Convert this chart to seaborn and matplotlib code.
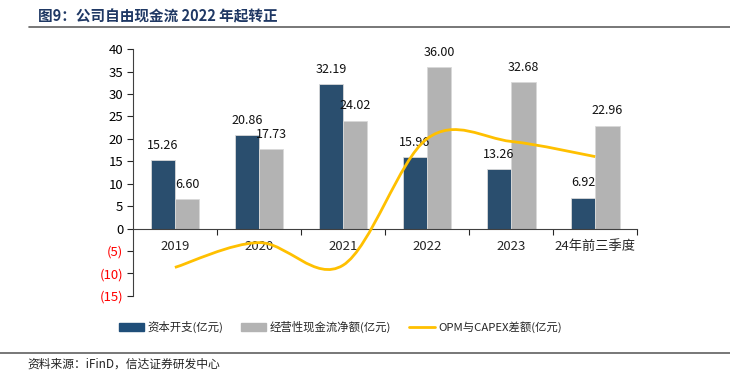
import matplotlib
matplotlib.use("Agg")
import matplotlib.pyplot as plt
from matplotlib.path import Path
from matplotlib.patches import PathPatch, Patch
from matplotlib.lines import Line2D
import numpy as np
import pandas as pd
import seaborn as sns

# 数据
categories = ['2019', '2020', '2021', '2022', '2023', '24年前三季度']
capex = [15.26, 20.86, 32.19, 15.96, 13.26, 6.92]
opm = [6.60, 17.73, 24.02, 36.00, 32.68, 22.96]
diff = [-8.66, -3.13, -8.17, 20.04, 19.42, 16.04]

s1 = '资本开支(亿元)'
s2 = '经营性现金流净额(亿元)'
s3 = 'OPM与CAPEX差额(亿元)'

blue = '#1F4E79'
grey = '#B3B3B3'
gold = '#FFC000'

sns.set_style('white')
plt.rcParams['font.family'] = ['Noto Sans CJK SC', 'DejaVu Sans']
plt.rcParams['axes.unicode_minus'] = False

df = pd.DataFrame({
    'cat': categories * 2,
    'val': capex + opm,
    'series': [s1] * len(categories) + [s2] * len(categories),
})

fig = plt.figure(figsize=(7.3, 3.75), dpi=100)
ax = fig.add_axes([0.182, 0.211, 0.691, 0.658])

sns.barplot(data=df, x='cat', y='val', hue='series', order=categories,
            palette=[blue, grey], width=0.58, gap=0, ax=ax, legend=False,
            edgecolor='#D9D9D9', linewidth=0.6, errorbar=None)

for c in ax.containers:
    ax.bar_label(c, fmt='%.2f', padding=6, fontsize=9, color='#111111')

# 平滑曲线 (Excel 式 Bezier)
x = np.arange(len(diff), dtype=float)
y = np.array(diff, dtype=float)
verts = [(x[0], y[0])]
codes = [Path.MOVETO]
n = len(x)
for i in range(n - 1):
    p0 = (x[max(i - 1, 0)], y[max(i - 1, 0)])
    p1 = (x[i], y[i])
    p2 = (x[i + 1], y[i + 1])
    p3 = (x[min(i + 2, n - 1)], y[min(i + 2, n - 1)])
    c1 = (p1[0] + (p2[0] - p0[0]) / 6, p1[1] + (p2[1] - p0[1]) / 6)
    c2 = (p2[0] - (p3[0] - p1[0]) / 6, p2[1] - (p3[1] - p1[1]) / 6)
    verts += [c1, c2, p2]
    codes += [Path.CURVE4] * 3
ax.add_patch(PathPatch(Path(verts, codes), fill=False, edgecolor=gold, lw=2, zorder=5))

ax.set_ylim(-15, 40)
ax.set_xlim(-0.5, 5.5)
ax.set_yticks(range(-15, 41, 5))
ylabels = []
for v in range(-15, 41, 5):
    ylabels.append(f'({-v})' if v < 0 else str(v))
ax.set_yticklabels(ylabels)
for lab, v in zip(ax.get_yticklabels(), range(-15, 41, 5)):
    lab.set_color('red' if v < 0 else 'black')
ax.tick_params(axis='y', direction='out', length=4, width=0.8, labelsize=9.5, pad=3, left=True)

ax.spines['top'].set_visible(False)
ax.spines['right'].set_visible(False)
ax.spines['left'].set_color('#404040')
ax.spines['bottom'].set_color('#404040')
ax.spines['bottom'].set_position(('data', 0))
ax.set_xticks(np.arange(0.5, 6, 1))
ax.set_xticklabels([])
ax.set_xticks(range(6), minor=True)
ax.set_xticklabels(categories, minor=True)
ax.tick_params(axis='x', which='major', direction='out', length=4, width=0.8, bottom=True)
ax.tick_params(axis='x', which='minor', length=0, labelsize=9.5, pad=8)
ax.set_xlabel('')
ax.set_ylabel('')

handles = [Patch(color=blue), Patch(color=grey), Line2D([], [], color=gold, lw=2)]
fig.legend(handles, [s1, s2, s3], loc='center', bbox_to_anchor=(0.466, 0.128), ncol=3,
           frameon=False, fontsize=8.2, handlelength=2.2, handleheight=0.7,
           columnspacing=1.6, handletextpad=0.3)

fig.text(0.052, 0.957, '图9：公司自由现金流 2022 年起转正', fontsize=10.5, fontweight='bold',
         color='#1F3864', va='center')
fig.add_artist(Line2D([0.04, 1.0], [0.927, 0.927], color='#606060', lw=1.2))
fig.add_artist(Line2D([0.0, 1.0], [0.06, 0.06], color='#606060', lw=1.2))
fig.text(0.038, 0.028, '资料来源：iFinD，信达证券研发中心', fontsize=8.5, style='italic',
         color='#222222', va='center')

fig.savefig('out.png', dpi=100)
